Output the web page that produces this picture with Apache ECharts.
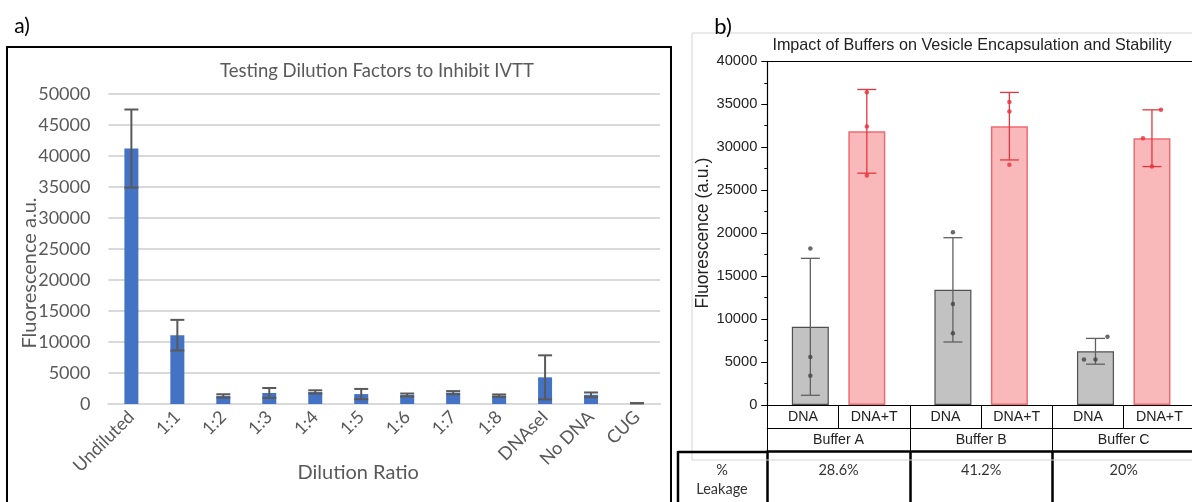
<!DOCTYPE html>
<html><head><meta charset="utf-8">
<script src="https://cdn.jsdelivr.net/npm/echarts@6/dist/echarts.min.js"></script>
<style>html,body{margin:0;padding:0;background:#fff}#c{width:1192px;height:502px}</style>
</head><body><div id="c"></div>
<script>
// ---------- Panel a data ----------
const dilutionCategories = ['Undiluted','1:1','1:2','1:3','1:4','1:5','1:6','1:7','1:8','DNAseI','No DNA','CUG'];
const dilutionMeans  = [41200, 11100, 1300, 1780, 1940, 1600, 1450, 1830, 1350, 4300, 1480, 120];
const dilutionErrors = [6300, 2470, 270, 800, 270, 830, 240, 250, 190, 3550, 380, 30];

// ---------- Panel b data ----------
const sampleLabels  = ['DNA','DNA+T','DNA','DNA+T','DNA','DNA+T'];
const bufferLabels  = ['Buffer A','Buffer B','Buffer C'];
const leakageLabels = ['28.6%','41.2%','20%'];
const dnaMeans   = [9100, 13400, 6250];
const dnaErrors  = [7970, 6070, 1500];
const dnaTMeans  = [31850, 32450, 31050];
const dnaTErrors = [4870, 3930, 3300];
const dnaReplicates  = [[18200, 5600, 3400], [20100, 11750, 8350], [5300, 5300, 7950]];
const dnaTReplicates = [[36400, 32400, 26700], [35250, 34150, 27950], [31050, 27750, 34350]];

// ---------- layout / style (not data) ----------
const dnaJitter  = [[0,0,0],[0,0,0],[-11.5,0,12]];
const dnaTJitter = [[0,0,0],[0,0,0],[-9,0,9]];
const BAR_W = 37, BAR_GAP = -1.4;
function slotOffset(s){
  const widthSum = BAR_W * (2 + BAR_GAP);
  return -widthSum/2 + s * BAR_W * (1 + BAR_GAP) + BAR_W/2;
}
const FA = 'Lato, "Open Sans", sans-serif';
const FB = '"Liberation Sans", Arial, sans-serif';
const plain = v => String(v);

function errRender(offset, color, capW, lw){
  return function(params, api){
    const x = api.value(0), m = api.value(1), e = api.value(2);
    const t = api.coord([x, m + e]), b = api.coord([x, m - e]);
    const cx = t[0] + offset;
    const st = {stroke: color, lineWidth: lw};
    return {type:'group', children:[
      {type:'line', shape:{x1:cx, y1:t[1], x2:cx, y2:b[1]}, style:st},
      {type:'line', shape:{x1:cx-capW/2, y1:t[1], x2:cx+capW/2, y2:t[1]}, style:st},
      {type:'line', shape:{x1:cx-capW/2, y1:b[1], x2:cx+capW/2, y2:b[1]}, style:st}
    ]};
  };
}

const dnaBar  = sampleLabels.map((_, k) => k % 2 === 0 ? dnaMeans[k/2] : '-');
const dnaTBar = sampleLabels.map((_, k) => k % 2 === 1 ? dnaTMeans[(k-1)/2] : '-');
const dnaErr  = dnaMeans.map((m, i) => [2*i, m, dnaErrors[i]]);
const dnaTErr = dnaTMeans.map((m, i) => [2*i+1, m, dnaTErrors[i]]);
const dnaPts = [], dnaTPts = [];
dnaReplicates.forEach((arr, i) => arr.forEach((v, j) => dnaPts.push({value:[2*i, v], symbolOffset:[slotOffset(0) + dnaJitter[i][j], 0]})));
dnaTReplicates.forEach((arr, i) => arr.forEach((v, j) => dnaTPts.push({value:[2*i+1, v], symbolOffset:[slotOffset(1) + dnaTJitter[i][j], 0]})));

const chart = echarts.init(document.getElementById('c'), null, {renderer:'canvas'});
chart.setOption({
  animation: false,
  backgroundColor: '#fff',
  grid: [
    {left: 108.4, right: 532, top: 94, bottom: 98, containLabel:false, outerBoundsMode:'none'},
    {left: 767.3, right: -3, top: 61.3, bottom: 97, containLabel:false, outerBoundsMode:'none'}
  ],
  xAxis: [
    {gridIndex:0, type:'category', data: dilutionCategories,
     axisLine:{lineStyle:{color:'#d9d9d9', width:2}}, axisTick:{show:false},
     axisLabel:{interval:0, rotate:45, fontSize:18, fontFamily:FA, color:'#595959', margin:10},
     name:'Dilution Ratio', nameLocation:'middle', nameGap:59, nameMoveOverlap:false,
     nameTextStyle:{fontSize:20, fontFamily:FA, color:'#595959', padding:[0,52,0,0]}},
    {gridIndex:1, type:'category', data: sampleLabels, position:'bottom',
     axisLine:{lineStyle:{color:'#000', width:1.2}},
     axisTick:{show:true, interval:0, length:23.3, lineStyle:{color:'#000', width:1}},
     axisLabel:{interval:0, margin:4.5, lineHeight:16, fontSize:14.2, fontFamily:FB, color:'#222'}},
    {gridIndex:1, type:'category', data: bufferLabels, position:'bottom', offset:23.3,
     axisLine:{lineStyle:{color:'#000', width:1.2}},
     axisTick:{show:true, interval:0, length:23.4, lineStyle:{color:'#000', width:1}},
     axisLabel:{interval:0, margin:4, lineHeight:16, fontSize:14.2, fontFamily:FB, color:'#222'}},
    {gridIndex:1, type:'category', data: leakageLabels, position:'bottom', offset:46.7,
     axisLine:{lineStyle:{color:'#000', width:2.5}},
     axisTick:{show:true, interval:0, length:60, lineStyle:{color:'#000', width:2.5}},
     axisLabel:{interval:0, margin:10, lineHeight:17, fontSize:14.5, fontFamily:FA, color:'#333'}},
    {gridIndex:1, type:'category', data: sampleLabels, position:'top',
     axisLine:{lineStyle:{color:'#000', width:1.2}}, axisTick:{show:false}, axisLabel:{show:false}}
  ],
  yAxis: [
    {gridIndex:0, type:'value', min:0, max:50000, interval:5000,
     axisLine:{show:false}, axisTick:{show:false},
     splitLine:{lineStyle:{color:'#d9d9d9', width:2}},
     axisLabel:{fontSize:18, fontFamily:FA, color:'#595959', margin:18, formatter:plain},
     name:'Fluorescence a.u.', nameLocation:'middle', nameGap:69, nameMoveOverlap:false,
     nameTextStyle:{fontSize:20, fontFamily:FA, color:'#595959', padding:[0,48,0,0]}},
    {gridIndex:1, type:'value', min:0, max:40000, interval:5000,
     axisLine:{show:true, lineStyle:{color:'#000', width:1.2}},
     axisTick:{show:true, length:6, lineStyle:{color:'#000'}},
     minorTick:{show:true, splitNumber:2, length:3, lineStyle:{color:'#000'}},
     splitLine:{show:false},
     axisLabel:{fontSize:14.7, fontFamily:FB, color:'#222', margin:10, formatter:plain},
     name:'Fluorescence (a.u.)', nameLocation:'middle', nameGap:55, nameMoveOverlap:false,
     nameTextStyle:{fontSize:17.5, fontFamily:FB, color:'#222'}}
  ],
  series: [
    {type:'bar', xAxisIndex:0, yAxisIndex:0, data: dilutionMeans, barWidth:14,
     itemStyle:{color:'#4472c4'}, z:2},
    {type:'custom', xAxisIndex:0, yAxisIndex:0, z:3,
     data: dilutionMeans.map((m, i) => [i, m, dilutionErrors[i]]),
     renderItem: errRender(0, '#595959', 14, 2)},
    {type:'bar', xAxisIndex:1, yAxisIndex:1, data: dnaBar, barWidth:BAR_W, barGap:(BAR_GAP*100)+'%',
     itemStyle:{color:'#c2c2c2', borderColor:'#505050', borderWidth:1.2}, z:2},
    {type:'bar', xAxisIndex:1, yAxisIndex:1, data: dnaTBar, barWidth:BAR_W, barGap:(BAR_GAP*100)+'%',
     itemStyle:{color:'#f9b9bb', borderColor:'#ef6b71', borderWidth:1.5}, z:2},
    {type:'custom', xAxisIndex:1, yAxisIndex:1, z:3, data: dnaErr,
     renderItem: errRender(slotOffset(0), '#606060', 19, 1.3)},
    {type:'custom', xAxisIndex:1, yAxisIndex:1, z:3, data: dnaTErr,
     renderItem: errRender(slotOffset(1), '#e8353d', 19, 1.3)},
    {type:'scatter', xAxisIndex:1, yAxisIndex:1, z:4, data: dnaPts, symbol:'circle', symbolSize:4.5,
     itemStyle:{color:'#444'}},
    {type:'scatter', xAxisIndex:1, yAxisIndex:1, z:4, data: dnaTPts, symbol:'circle', symbolSize:4.5,
     itemStyle:{color:'#e8303a'}}
  ],
  graphic: [
    {type:'rect', shape:{x:7, y:47, width:664, height:480}, style:{fill:'none', stroke:'#000', lineWidth:2}, z:10},
    {type:'text', x:22, y:26, style:{text:'a)', font:'21px '+FA, fill:'#000', textAlign:'center', textVerticalAlign:'middle'}, z:10},
    {type:'text', x:377, y:71, style:{text:'Testing Dilution Factors to Inhibit IVTT', font:'18.5px '+FA, fill:'#595959', textAlign:'center', textVerticalAlign:'middle'}, z:10},
    {type:'rect', shape:{x:692, y:33, width:600, height:427}, style:{fill:'none', stroke:'#d4d4d4', lineWidth:1}, z:1},
    {type:'text', x:723, y:27, style:{text:'b)', font:'22px '+FA, fill:'#000', textAlign:'center', textVerticalAlign:'middle'}, z:10},
    {type:'text', x:972, y:46, style:{text:'Impact of Buffers on Vesicle Encapsulation and Stability', font:'16.2px '+FB, fill:'#222', textAlign:'center', textVerticalAlign:'middle'}, z:10},
    {type:'line', shape:{x1:678, y1:452, x2:768, y2:452}, style:{stroke:'#000', lineWidth:2.5}, z:10},
    {type:'line', shape:{x1:678, y1:451, x2:678, y2:510}, style:{stroke:'#000', lineWidth:2.5}, z:10},
    {type:'text', x:722, y:470, style:{text:'%', font:'14.5px '+FA, fill:'#333', textAlign:'center', textVerticalAlign:'middle'}, z:10},
    {type:'text', x:722, y:489, style:{text:'Leakage', font:'14.5px '+FA, fill:'#333', textAlign:'center', textVerticalAlign:'middle'}, z:10}
  ]
});
</script></body></html>
